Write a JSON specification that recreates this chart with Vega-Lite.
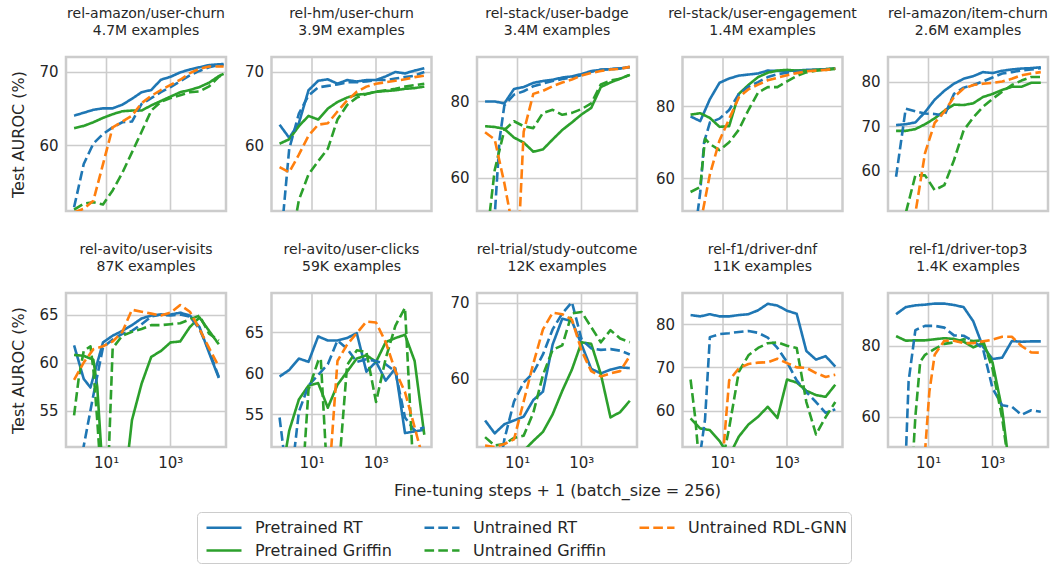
{
"$schema":"https://vega.github.io/schema/vega-lite/v6.json",
"padding":{"left":9,"top":5,"right":5,"bottom":5},
"datasets":{"d":[
{"p":1,"s":"PR","x":1,"y":64.0},{"p":1,"s":"PR","x":2,"y":64.4},{"p":1,"s":"PR","x":4,"y":64.8},{"p":1,"s":"PR","x":8,"y":65.0},{"p":1,"s":"PR","x":16,"y":65.0},{"p":1,"s":"PR","x":32,"y":65.5},{"p":1,"s":"PR","x":64,"y":66.3},{"p":1,"s":"PR","x":128,"y":67.2},{"p":1,"s":"PR","x":256,"y":67.5},{"p":1,"s":"PR","x":512,"y":68.9},{"p":1,"s":"PR","x":1024,"y":69.3},{"p":1,"s":"PR","x":2048,"y":69.9},{"p":1,"s":"PR","x":4096,"y":70.3},{"p":1,"s":"PR","x":8192,"y":70.6},{"p":1,"s":"PR","x":16384,"y":70.9},{"p":1,"s":"PR","x":32768,"y":71.0},{"p":1,"s":"PR","x":46341,"y":71.05},
{"p":1,"s":"PG","x":1,"y":62.3},{"p":1,"s":"PG","x":2,"y":62.6},{"p":1,"s":"PG","x":4,"y":63.1},{"p":1,"s":"PG","x":8,"y":63.7},{"p":1,"s":"PG","x":16,"y":64.2},{"p":1,"s":"PG","x":32,"y":64.6},{"p":1,"s":"PG","x":64,"y":64.7},{"p":1,"s":"PG","x":128,"y":64.7},{"p":1,"s":"PG","x":256,"y":65.4},{"p":1,"s":"PG","x":512,"y":66.0},{"p":1,"s":"PG","x":1024,"y":66.6},{"p":1,"s":"PG","x":2048,"y":67.2},{"p":1,"s":"PG","x":4096,"y":67.5},{"p":1,"s":"PG","x":8192,"y":67.9},{"p":1,"s":"PG","x":16384,"y":68.5},{"p":1,"s":"PG","x":32768,"y":69.4},{"p":1,"s":"PG","x":46341,"y":69.7},
{"p":1,"s":"UR","x":1,"y":51.5},{"p":1,"s":"UR","x":2,"y":57.4},{"p":1,"s":"UR","x":4,"y":60.2},{"p":1,"s":"UR","x":8,"y":61.5},{"p":1,"s":"UR","x":16,"y":62.4},{"p":1,"s":"UR","x":32,"y":63.1},{"p":1,"s":"UR","x":64,"y":63.2},{"p":1,"s":"UR","x":128,"y":65.6},{"p":1,"s":"UR","x":256,"y":66.4},{"p":1,"s":"UR","x":512,"y":67.2},{"p":1,"s":"UR","x":1024,"y":67.9},{"p":1,"s":"UR","x":2048,"y":68.7},{"p":1,"s":"UR","x":4096,"y":69.5},{"p":1,"s":"UR","x":8192,"y":70.1},{"p":1,"s":"UR","x":16384,"y":70.6},{"p":1,"s":"UR","x":32768,"y":70.9},{"p":1,"s":"UR","x":46341,"y":70.9},
{"p":1,"s":"UG","x":1,"y":51.2},{"p":1,"s":"UG","x":2,"y":52.0},{"p":1,"s":"UG","x":4,"y":52.2},{"p":1,"s":"UG","x":8,"y":51.9},{"p":1,"s":"UG","x":16,"y":53.8},{"p":1,"s":"UG","x":32,"y":56.2},{"p":1,"s":"UG","x":64,"y":59.0},{"p":1,"s":"UG","x":128,"y":61.8},{"p":1,"s":"UG","x":256,"y":64.7},{"p":1,"s":"UG","x":512,"y":65.9},{"p":1,"s":"UG","x":1024,"y":66.4},{"p":1,"s":"UG","x":2048,"y":66.8},{"p":1,"s":"UG","x":4096,"y":67.2},{"p":1,"s":"UG","x":8192,"y":67.3},{"p":1,"s":"UG","x":16384,"y":68.0},{"p":1,"s":"UG","x":32768,"y":69.3},{"p":1,"s":"UG","x":46341,"y":69.6},
{"p":1,"s":"UO","x":1,"y":50.8},{"p":1,"s":"UO","x":2,"y":51.3},{"p":1,"s":"UO","x":4,"y":52.4},{"p":1,"s":"UO","x":8,"y":57.4},{"p":1,"s":"UO","x":16,"y":62.4},{"p":1,"s":"UO","x":32,"y":63.2},{"p":1,"s":"UO","x":64,"y":64.0},{"p":1,"s":"UO","x":128,"y":65.7},{"p":1,"s":"UO","x":256,"y":66.7},{"p":1,"s":"UO","x":512,"y":67.5},{"p":1,"s":"UO","x":1024,"y":68.2},{"p":1,"s":"UO","x":2048,"y":68.9},{"p":1,"s":"UO","x":4096,"y":69.8},{"p":1,"s":"UO","x":8192,"y":70.4},{"p":1,"s":"UO","x":16384,"y":70.7},{"p":1,"s":"UO","x":32768,"y":70.7},{"p":1,"s":"UO","x":46341,"y":70.7},

{"p":2,"s":"PR","x":1,"y":62.8},{"p":2,"s":"PR","x":2,"y":61.0},{"p":2,"s":"PR","x":4,"y":63.0},{"p":2,"s":"PR","x":8,"y":67.5},{"p":2,"s":"PR","x":16,"y":68.8},{"p":2,"s":"PR","x":32,"y":69.0},{"p":2,"s":"PR","x":64,"y":68.4},{"p":2,"s":"PR","x":128,"y":68.9},{"p":2,"s":"PR","x":256,"y":68.7},{"p":2,"s":"PR","x":512,"y":68.9},{"p":2,"s":"PR","x":1024,"y":68.9},{"p":2,"s":"PR","x":2048,"y":69.4},{"p":2,"s":"PR","x":4096,"y":70.0},{"p":2,"s":"PR","x":8192,"y":69.8},{"p":2,"s":"PR","x":16384,"y":70.2},{"p":2,"s":"PR","x":32768,"y":70.5},
{"p":2,"s":"PG","x":1,"y":60.2},{"p":2,"s":"PG","x":2,"y":60.8},{"p":2,"s":"PG","x":4,"y":62.6},{"p":2,"s":"PG","x":8,"y":64.0},{"p":2,"s":"PG","x":16,"y":63.5},{"p":2,"s":"PG","x":32,"y":65.0},{"p":2,"s":"PG","x":64,"y":65.9},{"p":2,"s":"PG","x":128,"y":66.5},{"p":2,"s":"PG","x":256,"y":66.9},{"p":2,"s":"PG","x":512,"y":67.0},{"p":2,"s":"PG","x":1024,"y":67.3},{"p":2,"s":"PG","x":2048,"y":67.4},{"p":2,"s":"PG","x":4096,"y":67.5},{"p":2,"s":"PG","x":8192,"y":67.7},{"p":2,"s":"PG","x":16384,"y":67.8},{"p":2,"s":"PG","x":32768,"y":68.0},
{"p":2,"s":"UR","x":1,"y":45},{"p":2,"s":"UR","x":2,"y":59.5},{"p":2,"s":"UR","x":4,"y":64.3},{"p":2,"s":"UR","x":8,"y":66.8},{"p":2,"s":"UR","x":16,"y":67.9},{"p":2,"s":"UR","x":32,"y":68.1},{"p":2,"s":"UR","x":64,"y":68.3},{"p":2,"s":"UR","x":128,"y":68.6},{"p":2,"s":"UR","x":256,"y":68.6},{"p":2,"s":"UR","x":512,"y":68.7},{"p":2,"s":"UR","x":1024,"y":68.9},{"p":2,"s":"UR","x":2048,"y":68.9},{"p":2,"s":"UR","x":4096,"y":69.1},{"p":2,"s":"UR","x":8192,"y":69.3},{"p":2,"s":"UR","x":16384,"y":69.5},{"p":2,"s":"UR","x":32768,"y":70.0},
{"p":2,"s":"UG","x":1,"y":40},{"p":2,"s":"UG","x":2,"y":45},{"p":2,"s":"UG","x":4,"y":52.5},{"p":2,"s":"UG","x":8,"y":56.0},{"p":2,"s":"UG","x":16,"y":57.8},{"p":2,"s":"UG","x":32,"y":59.5},{"p":2,"s":"UG","x":64,"y":63.5},{"p":2,"s":"UG","x":128,"y":65.5},{"p":2,"s":"UG","x":256,"y":66.5},{"p":2,"s":"UG","x":512,"y":67.0},{"p":2,"s":"UG","x":1024,"y":67.3},{"p":2,"s":"UG","x":2048,"y":67.5},{"p":2,"s":"UG","x":4096,"y":67.7},{"p":2,"s":"UG","x":8192,"y":68.0},{"p":2,"s":"UG","x":16384,"y":68.2},{"p":2,"s":"UG","x":32768,"y":68.4},
{"p":2,"s":"UO","x":1,"y":57.0},{"p":2,"s":"UO","x":2,"y":56.3},{"p":2,"s":"UO","x":4,"y":58.7},{"p":2,"s":"UO","x":8,"y":61.3},{"p":2,"s":"UO","x":16,"y":62.8},{"p":2,"s":"UO","x":32,"y":63.0},{"p":2,"s":"UO","x":64,"y":64.6},{"p":2,"s":"UO","x":128,"y":66.1},{"p":2,"s":"UO","x":256,"y":67.3},{"p":2,"s":"UO","x":512,"y":68.0},{"p":2,"s":"UO","x":1024,"y":68.4},{"p":2,"s":"UO","x":2048,"y":68.6},{"p":2,"s":"UO","x":4096,"y":68.8},{"p":2,"s":"UO","x":8192,"y":69.0},{"p":2,"s":"UO","x":16384,"y":69.3},{"p":2,"s":"UO","x":32768,"y":69.5},

{"p":3,"s":"PR","x":1,"y":80.0},{"p":3,"s":"PR","x":2,"y":80.0},{"p":3,"s":"PR","x":4,"y":79.5},{"p":3,"s":"PR","x":8,"y":83.3},{"p":3,"s":"PR","x":16,"y":83.8},{"p":3,"s":"PR","x":32,"y":84.9},{"p":3,"s":"PR","x":64,"y":85.4},{"p":3,"s":"PR","x":128,"y":85.7},{"p":3,"s":"PR","x":256,"y":86.3},{"p":3,"s":"PR","x":512,"y":86.6},{"p":3,"s":"PR","x":1024,"y":87.2},{"p":3,"s":"PR","x":2048,"y":88.0},{"p":3,"s":"PR","x":4096,"y":88.3},{"p":3,"s":"PR","x":8192,"y":88.5},{"p":3,"s":"PR","x":16384,"y":88.7},{"p":3,"s":"PR","x":32768,"y":89.1},
{"p":3,"s":"PG","x":1,"y":73.5},{"p":3,"s":"PG","x":2,"y":73.3},{"p":3,"s":"PG","x":4,"y":72.8},{"p":3,"s":"PG","x":8,"y":70.5},{"p":3,"s":"PG","x":16,"y":69.2},{"p":3,"s":"PG","x":32,"y":66.8},{"p":3,"s":"PG","x":64,"y":67.4},{"p":3,"s":"PG","x":128,"y":70.0},{"p":3,"s":"PG","x":256,"y":72.5},{"p":3,"s":"PG","x":512,"y":74.5},{"p":3,"s":"PG","x":1024,"y":76.6},{"p":3,"s":"PG","x":2048,"y":78.3},{"p":3,"s":"PG","x":4096,"y":83.8},{"p":3,"s":"PG","x":8192,"y":85.0},{"p":3,"s":"PG","x":16384,"y":86.0},{"p":3,"s":"PG","x":32768,"y":87.0},
{"p":3,"s":"UR","x":1,"y":45},{"p":3,"s":"UR","x":2,"y":50},{"p":3,"s":"UR","x":2.828,"y":70},{"p":3,"s":"UR","x":4,"y":79.0},{"p":3,"s":"UR","x":8,"y":81.8},{"p":3,"s":"UR","x":16,"y":82.7},{"p":3,"s":"UR","x":32,"y":84.0},{"p":3,"s":"UR","x":64,"y":84.7},{"p":3,"s":"UR","x":128,"y":85.4},{"p":3,"s":"UR","x":256,"y":85.9},{"p":3,"s":"UR","x":512,"y":86.3},{"p":3,"s":"UR","x":1024,"y":86.9},{"p":3,"s":"UR","x":2048,"y":87.8},{"p":3,"s":"UR","x":4096,"y":88.4},{"p":3,"s":"UR","x":8192,"y":88.5},{"p":3,"s":"UR","x":16384,"y":88.7},{"p":3,"s":"UR","x":32768,"y":89.0},
{"p":3,"s":"UG","x":1,"y":40},{"p":3,"s":"UG","x":2,"y":62},{"p":3,"s":"UG","x":4,"y":72.5},{"p":3,"s":"UG","x":8,"y":74.8},{"p":3,"s":"UG","x":16,"y":73.5},{"p":3,"s":"UG","x":32,"y":73.0},{"p":3,"s":"UG","x":64,"y":77.0},{"p":3,"s":"UG","x":128,"y":77.8},{"p":3,"s":"UG","x":256,"y":76.5},{"p":3,"s":"UG","x":512,"y":77.0},{"p":3,"s":"UG","x":1024,"y":78.0},{"p":3,"s":"UG","x":2048,"y":79.5},{"p":3,"s":"UG","x":4096,"y":84.5},{"p":3,"s":"UG","x":8192,"y":85.5},{"p":3,"s":"UG","x":16384,"y":86.0},{"p":3,"s":"UG","x":32768,"y":87.0},
{"p":3,"s":"UO","x":1,"y":71.9},{"p":3,"s":"UO","x":2,"y":70.0},{"p":3,"s":"UO","x":4,"y":58.5},{"p":3,"s":"UO","x":8,"y":45},{"p":3,"s":"UO","x":12.13,"y":50.5},{"p":3,"s":"UO","x":16,"y":72},{"p":3,"s":"UO","x":32,"y":82.0},{"p":3,"s":"UO","x":64,"y":82.8},{"p":3,"s":"UO","x":128,"y":84.0},{"p":3,"s":"UO","x":256,"y":85.0},{"p":3,"s":"UO","x":512,"y":85.8},{"p":3,"s":"UO","x":1024,"y":86.8},{"p":3,"s":"UO","x":2048,"y":87.5},{"p":3,"s":"UO","x":4096,"y":88.0},{"p":3,"s":"UO","x":8192,"y":88.4},{"p":3,"s":"UO","x":16384,"y":88.6},{"p":3,"s":"UO","x":32768,"y":89.1},

{"p":4,"s":"PR","x":1,"y":77.2},{"p":4,"s":"PR","x":2,"y":75.9},{"p":4,"s":"PR","x":4,"y":82.0},{"p":4,"s":"PR","x":8,"y":86.6},{"p":4,"s":"PR","x":16,"y":87.8},{"p":4,"s":"PR","x":32,"y":88.6},{"p":4,"s":"PR","x":64,"y":88.9},{"p":4,"s":"PR","x":128,"y":89.2},{"p":4,"s":"PR","x":256,"y":90.0},{"p":4,"s":"PR","x":512,"y":89.9},{"p":4,"s":"PR","x":1024,"y":89.9},{"p":4,"s":"PR","x":2048,"y":90.0},{"p":4,"s":"PR","x":4096,"y":90.2},{"p":4,"s":"PR","x":8192,"y":90.3},{"p":4,"s":"PR","x":16384,"y":90.4},{"p":4,"s":"PR","x":32768,"y":90.6},
{"p":4,"s":"PG","x":1,"y":77.7},{"p":4,"s":"PG","x":2,"y":78.1},{"p":4,"s":"PG","x":4,"y":76.8},{"p":4,"s":"PG","x":8,"y":74.3},{"p":4,"s":"PG","x":16,"y":74.5},{"p":4,"s":"PG","x":32,"y":83.5},{"p":4,"s":"PG","x":64,"y":86.0},{"p":4,"s":"PG","x":128,"y":88.2},{"p":4,"s":"PG","x":256,"y":89.4},{"p":4,"s":"PG","x":512,"y":90.0},{"p":4,"s":"PG","x":1024,"y":90.2},{"p":4,"s":"PG","x":2048,"y":90.0},{"p":4,"s":"PG","x":4096,"y":90.0},{"p":4,"s":"PG","x":8192,"y":90.2},{"p":4,"s":"PG","x":16384,"y":90.4},{"p":4,"s":"PG","x":32768,"y":90.6},
{"p":4,"s":"UR","x":1,"y":35},{"p":4,"s":"UR","x":2,"y":56},{"p":4,"s":"UR","x":2.639,"y":70},{"p":4,"s":"UR","x":4,"y":75.5},{"p":4,"s":"UR","x":8,"y":76.6},{"p":4,"s":"UR","x":16,"y":79.0},{"p":4,"s":"UR","x":32,"y":83.5},{"p":4,"s":"UR","x":64,"y":85.5},{"p":4,"s":"UR","x":128,"y":86.8},{"p":4,"s":"UR","x":256,"y":88.2},{"p":4,"s":"UR","x":512,"y":89.0},{"p":4,"s":"UR","x":1024,"y":89.4},{"p":4,"s":"UR","x":2048,"y":89.7},{"p":4,"s":"UR","x":4096,"y":90.0},{"p":4,"s":"UR","x":8192,"y":90.1},{"p":4,"s":"UR","x":16384,"y":90.3},{"p":4,"s":"UR","x":32768,"y":90.5},
{"p":4,"s":"UG","x":1,"y":56.1},{"p":4,"s":"UG","x":2,"y":57.5},{"p":4,"s":"UG","x":2.828,"y":71},{"p":4,"s":"UG","x":4,"y":69.5},{"p":4,"s":"UG","x":8,"y":67.8},{"p":4,"s":"UG","x":16,"y":70.0},{"p":4,"s":"UG","x":32,"y":73.5},{"p":4,"s":"UG","x":64,"y":79.0},{"p":4,"s":"UG","x":128,"y":83.9},{"p":4,"s":"UG","x":256,"y":85.4},{"p":4,"s":"UG","x":512,"y":85.4},{"p":4,"s":"UG","x":1024,"y":87.0},{"p":4,"s":"UG","x":2048,"y":88.5},{"p":4,"s":"UG","x":4096,"y":89.5},{"p":4,"s":"UG","x":8192,"y":90.0},{"p":4,"s":"UG","x":16384,"y":90.2},{"p":4,"s":"UG","x":32768,"y":90.5},
{"p":4,"s":"UO","x":1,"y":40},{"p":4,"s":"UO","x":2,"y":47},{"p":4,"s":"UO","x":4,"y":61},{"p":4,"s":"UO","x":8,"y":70.5},{"p":4,"s":"UO","x":16,"y":76.5},{"p":4,"s":"UO","x":32,"y":82.5},{"p":4,"s":"UO","x":64,"y":84.8},{"p":4,"s":"UO","x":128,"y":86.1},{"p":4,"s":"UO","x":256,"y":87.3},{"p":4,"s":"UO","x":512,"y":88.0},{"p":4,"s":"UO","x":1024,"y":88.7},{"p":4,"s":"UO","x":2048,"y":89.3},{"p":4,"s":"UO","x":4096,"y":89.8},{"p":4,"s":"UO","x":8192,"y":90.0},{"p":4,"s":"UO","x":16384,"y":90.2},{"p":4,"s":"UO","x":32768,"y":90.5},

{"p":5,"s":"PR","x":1,"y":70.3},{"p":5,"s":"PR","x":2,"y":70.5},{"p":5,"s":"PR","x":4,"y":70.9},{"p":5,"s":"PR","x":8,"y":73.2},{"p":5,"s":"PR","x":16,"y":76.0},{"p":5,"s":"PR","x":32,"y":78.0},{"p":5,"s":"PR","x":64,"y":79.6},{"p":5,"s":"PR","x":128,"y":80.7},{"p":5,"s":"PR","x":256,"y":81.3},{"p":5,"s":"PR","x":512,"y":82.2},{"p":5,"s":"PR","x":1024,"y":82.0},{"p":5,"s":"PR","x":2048,"y":82.5},{"p":5,"s":"PR","x":4096,"y":82.8},{"p":5,"s":"PR","x":8192,"y":83.0},{"p":5,"s":"PR","x":16384,"y":83.1},{"p":5,"s":"PR","x":32768,"y":83.3},
{"p":5,"s":"PG","x":1,"y":69.0},{"p":5,"s":"PG","x":2,"y":69.0},{"p":5,"s":"PG","x":4,"y":69.4},{"p":5,"s":"PG","x":8,"y":70.5},{"p":5,"s":"PG","x":16,"y":71.8},{"p":5,"s":"PG","x":32,"y":73.5},{"p":5,"s":"PG","x":64,"y":74.9},{"p":5,"s":"PG","x":128,"y":74.8},{"p":5,"s":"PG","x":256,"y":75.2},{"p":5,"s":"PG","x":512,"y":76.6},{"p":5,"s":"PG","x":1024,"y":77.3},{"p":5,"s":"PG","x":2048,"y":78.2},{"p":5,"s":"PG","x":4096,"y":78.9},{"p":5,"s":"PG","x":8192,"y":78.9},{"p":5,"s":"PG","x":16384,"y":79.8},{"p":5,"s":"PG","x":32768,"y":79.8},
{"p":5,"s":"UR","x":1,"y":58.7},{"p":5,"s":"UR","x":2,"y":74.0},{"p":5,"s":"UR","x":4,"y":73.4},{"p":5,"s":"UR","x":8,"y":72.9},{"p":5,"s":"UR","x":16,"y":72.8},{"p":5,"s":"UR","x":32,"y":72.4},{"p":5,"s":"UR","x":64,"y":77.3},{"p":5,"s":"UR","x":128,"y":78.7},{"p":5,"s":"UR","x":256,"y":79.3},{"p":5,"s":"UR","x":512,"y":80.1},{"p":5,"s":"UR","x":1024,"y":81.0},{"p":5,"s":"UR","x":2048,"y":81.9},{"p":5,"s":"UR","x":4096,"y":82.2},{"p":5,"s":"UR","x":8192,"y":82.6},{"p":5,"s":"UR","x":16384,"y":82.8},{"p":5,"s":"UR","x":32768,"y":83.1},
{"p":5,"s":"UG","x":1,"y":45},{"p":5,"s":"UG","x":2,"y":50.5},{"p":5,"s":"UG","x":4,"y":59.0},{"p":5,"s":"UG","x":8,"y":59.0},{"p":5,"s":"UG","x":16,"y":55.7},{"p":5,"s":"UG","x":32,"y":56.8},{"p":5,"s":"UG","x":64,"y":62.4},{"p":5,"s":"UG","x":128,"y":69.1},{"p":5,"s":"UG","x":256,"y":72.0},{"p":5,"s":"UG","x":512,"y":74.4},{"p":5,"s":"UG","x":1024,"y":76.2},{"p":5,"s":"UG","x":2048,"y":77.8},{"p":5,"s":"UG","x":4096,"y":79.3},{"p":5,"s":"UG","x":8192,"y":80.3},{"p":5,"s":"UG","x":16384,"y":81.1},{"p":5,"s":"UG","x":32768,"y":81.1},
{"p":5,"s":"UO","x":1,"y":40},{"p":5,"s":"UO","x":2,"y":45},{"p":5,"s":"UO","x":4,"y":50.5},{"p":5,"s":"UO","x":8,"y":64.0},{"p":5,"s":"UO","x":16,"y":70.8},{"p":5,"s":"UO","x":32,"y":73.3},{"p":5,"s":"UO","x":64,"y":76.6},{"p":5,"s":"UO","x":128,"y":78.5},{"p":5,"s":"UO","x":256,"y":79.3},{"p":5,"s":"UO","x":512,"y":79.6},{"p":5,"s":"UO","x":1024,"y":79.8},{"p":5,"s":"UO","x":2048,"y":80.1},{"p":5,"s":"UO","x":4096,"y":80.7},{"p":5,"s":"UO","x":8192,"y":81.5},{"p":5,"s":"UO","x":16384,"y":81.9},{"p":5,"s":"UO","x":32768,"y":82.2},

{"p":6,"s":"PR","x":1,"y":61.8},{"p":6,"s":"PR","x":2,"y":58.3},{"p":6,"s":"PR","x":3.249,"y":57.4},{"p":6,"s":"PR","x":4,"y":58.5},{"p":6,"s":"PR","x":8,"y":62.1},{"p":6,"s":"PR","x":16,"y":62.8},{"p":6,"s":"PR","x":32,"y":63.3},{"p":6,"s":"PR","x":64,"y":63.9},{"p":6,"s":"PR","x":128,"y":64.6},{"p":6,"s":"PR","x":256,"y":64.9},{"p":6,"s":"PR","x":512,"y":65.0},{"p":6,"s":"PR","x":1024,"y":65.0},{"p":6,"s":"PR","x":2048,"y":65.2},{"p":6,"s":"PR","x":4096,"y":64.9},{"p":6,"s":"PR","x":8192,"y":63.7},{"p":6,"s":"PR","x":16384,"y":61.0},{"p":6,"s":"PR","x":32768,"y":58.4},
{"p":6,"s":"PG","x":1,"y":60.8},{"p":6,"s":"PG","x":2,"y":60.7},{"p":6,"s":"PG","x":4,"y":60.3},{"p":6,"s":"PG","x":5.278,"y":57.5},{"p":6,"s":"PG","x":8,"y":48},{"p":6,"s":"PG","x":16,"y":40},{"p":6,"s":"PG","x":32,"y":45},{"p":6,"s":"PG","x":64,"y":54},{"p":6,"s":"PG","x":128,"y":57.8},{"p":6,"s":"PG","x":256,"y":60.6},{"p":6,"s":"PG","x":512,"y":61.2},{"p":6,"s":"PG","x":1024,"y":62.1},{"p":6,"s":"PG","x":2048,"y":62.2},{"p":6,"s":"PG","x":4096,"y":63.7},{"p":6,"s":"PG","x":8192,"y":64.7},{"p":6,"s":"PG","x":16384,"y":63.3},{"p":6,"s":"PG","x":32768,"y":61.9},
{"p":6,"s":"UR","x":1,"y":45},{"p":6,"s":"UR","x":2,"y":51.3},{"p":6,"s":"UR","x":4,"y":56.6},{"p":6,"s":"UR","x":8,"y":61.6},{"p":6,"s":"UR","x":16,"y":62.4},{"p":6,"s":"UR","x":32,"y":63.0},{"p":6,"s":"UR","x":64,"y":63.3},{"p":6,"s":"UR","x":128,"y":64.0},{"p":6,"s":"UR","x":256,"y":64.8},{"p":6,"s":"UR","x":512,"y":65.0},{"p":6,"s":"UR","x":1024,"y":64.9},{"p":6,"s":"UR","x":2048,"y":65.0},{"p":6,"s":"UR","x":4096,"y":64.8},{"p":6,"s":"UR","x":8192,"y":63.5},{"p":6,"s":"UR","x":16384,"y":61.2},{"p":6,"s":"UR","x":32768,"y":58.5},
{"p":6,"s":"UG","x":1,"y":54.5},{"p":6,"s":"UG","x":1.414,"y":58.5},{"p":6,"s":"UG","x":2,"y":61.2},{"p":6,"s":"UG","x":3.249,"y":61.7},{"p":6,"s":"UG","x":4,"y":59.3},{"p":6,"s":"UG","x":5.278,"y":54.0},{"p":6,"s":"UG","x":8,"y":45},{"p":6,"s":"UG","x":10.56,"y":45},{"p":6,"s":"UG","x":16,"y":61.5},{"p":6,"s":"UG","x":32,"y":62.8},{"p":6,"s":"UG","x":64,"y":63.2},{"p":6,"s":"UG","x":128,"y":63.5},{"p":6,"s":"UG","x":256,"y":63.9},{"p":6,"s":"UG","x":512,"y":63.9},{"p":6,"s":"UG","x":1024,"y":64.0},{"p":6,"s":"UG","x":2048,"y":64.1},{"p":6,"s":"UG","x":4096,"y":64.5},{"p":6,"s":"UG","x":8192,"y":64.9},{"p":6,"s":"UG","x":16384,"y":63.0},{"p":6,"s":"UG","x":32768,"y":62.3},
{"p":6,"s":"UO","x":1,"y":58.2},{"p":6,"s":"UO","x":2,"y":60.0},{"p":6,"s":"UO","x":4,"y":61.4},{"p":6,"s":"UO","x":8,"y":61.7},{"p":6,"s":"UO","x":16,"y":62.2},{"p":6,"s":"UO","x":32,"y":63.2},{"p":6,"s":"UO","x":64,"y":65.5},{"p":6,"s":"UO","x":128,"y":65.3},{"p":6,"s":"UO","x":256,"y":65.1},{"p":6,"s":"UO","x":512,"y":64.9},{"p":6,"s":"UO","x":1024,"y":65.2},{"p":6,"s":"UO","x":2048,"y":66.0},{"p":6,"s":"UO","x":4096,"y":65.3},{"p":6,"s":"UO","x":8192,"y":63.5},{"p":6,"s":"UO","x":16384,"y":61.5},{"p":6,"s":"UO","x":32768,"y":59.6},

{"p":7,"s":"PR","x":1,"y":59.6},{"p":7,"s":"PR","x":2,"y":60.4},{"p":7,"s":"PR","x":4,"y":61.8},{"p":7,"s":"PR","x":8,"y":61.4},{"p":7,"s":"PR","x":16,"y":64.5},{"p":7,"s":"PR","x":32,"y":64.0},{"p":7,"s":"PR","x":64,"y":64.0},{"p":7,"s":"PR","x":128,"y":64.3},{"p":7,"s":"PR","x":256,"y":64.9},{"p":7,"s":"PR","x":512,"y":60.2},{"p":7,"s":"PR","x":1024,"y":61.4},{"p":7,"s":"PR","x":2048,"y":59.1},{"p":7,"s":"PR","x":4096,"y":60.6},{"p":7,"s":"PR","x":8192,"y":52.7},{"p":7,"s":"PR","x":16384,"y":52.9},{"p":7,"s":"PR","x":32768,"y":53.1},
{"p":7,"s":"PG","x":1,"y":46},{"p":7,"s":"PG","x":2,"y":53.0},{"p":7,"s":"PG","x":4,"y":56.8},{"p":7,"s":"PG","x":8,"y":58.5},{"p":7,"s":"PG","x":16,"y":58.8},{"p":7,"s":"PG","x":32,"y":55.8},{"p":7,"s":"PG","x":64,"y":58.6},{"p":7,"s":"PG","x":128,"y":60.2},{"p":7,"s":"PG","x":256,"y":61.8},{"p":7,"s":"PG","x":512,"y":62.2},{"p":7,"s":"PG","x":1024,"y":61.4},{"p":7,"s":"PG","x":2048,"y":63.8},{"p":7,"s":"PG","x":4096,"y":64.3},{"p":7,"s":"PG","x":8192,"y":64.7},{"p":7,"s":"PG","x":16384,"y":61.5},{"p":7,"s":"PG","x":32768,"y":52.5},
{"p":7,"s":"UR","x":1,"y":54.6},{"p":7,"s":"UR","x":2,"y":45},{"p":7,"s":"UR","x":4,"y":55.3},{"p":7,"s":"UR","x":8,"y":58.5},{"p":7,"s":"UR","x":16,"y":59.8},{"p":7,"s":"UR","x":32,"y":61.1},{"p":7,"s":"UR","x":64,"y":64.0},{"p":7,"s":"UR","x":128,"y":63.0},{"p":7,"s":"UR","x":256,"y":61.4},{"p":7,"s":"UR","x":512,"y":61.7},{"p":7,"s":"UR","x":1024,"y":61.5},{"p":7,"s":"UR","x":2048,"y":61.1},{"p":7,"s":"UR","x":4096,"y":60.2},{"p":7,"s":"UR","x":8192,"y":54.6},{"p":7,"s":"UR","x":16384,"y":53.0},{"p":7,"s":"UR","x":32768,"y":53.4},
{"p":7,"s":"UG","x":1,"y":45},{"p":7,"s":"UG","x":2,"y":45},{"p":7,"s":"UG","x":4,"y":40},{"p":7,"s":"UG","x":8,"y":58.0},{"p":7,"s":"UG","x":16,"y":61.5},{"p":7,"s":"UG","x":19.29,"y":61.8},{"p":7,"s":"UG","x":32,"y":46},{"p":7,"s":"UG","x":64,"y":46},{"p":7,"s":"UG","x":128,"y":61.0},{"p":7,"s":"UG","x":256,"y":62.8},{"p":7,"s":"UG","x":512,"y":62.6},{"p":7,"s":"UG","x":1024,"y":56.5},{"p":7,"s":"UG","x":2048,"y":61.8},{"p":7,"s":"UG","x":4096,"y":65.8},{"p":7,"s":"UG","x":8192,"y":68.0},{"p":7,"s":"UG","x":16384,"y":45},{"p":7,"s":"UG","x":32768,"y":45},
{"p":7,"s":"UO","x":1,"y":45},{"p":7,"s":"UO","x":2,"y":45},{"p":7,"s":"UO","x":4,"y":45},{"p":7,"s":"UO","x":8,"y":45},{"p":7,"s":"UO","x":16,"y":45},{"p":7,"s":"UO","x":32,"y":45},{"p":7,"s":"UO","x":64,"y":61.5},{"p":7,"s":"UO","x":128,"y":63.5},{"p":7,"s":"UO","x":256,"y":64.9},{"p":7,"s":"UO","x":512,"y":66.3},{"p":7,"s":"UO","x":1024,"y":66.2},{"p":7,"s":"UO","x":2048,"y":63.8},{"p":7,"s":"UO","x":4096,"y":60.3},{"p":7,"s":"UO","x":8192,"y":57.7},{"p":7,"s":"UO","x":16384,"y":53.4},{"p":7,"s":"UO","x":32768,"y":49},

{"p":8,"s":"PR","x":1,"y":54.5},{"p":8,"s":"PR","x":2,"y":52.8},{"p":8,"s":"PR","x":4,"y":54.0},{"p":8,"s":"PR","x":8,"y":54.5},{"p":8,"s":"PR","x":16,"y":55.0},{"p":8,"s":"PR","x":32,"y":57.2},{"p":8,"s":"PR","x":64,"y":58.3},{"p":8,"s":"PR","x":128,"y":64.5},{"p":8,"s":"PR","x":256,"y":67.9},{"p":8,"s":"PR","x":512,"y":67.6},{"p":8,"s":"PR","x":1024,"y":64.5},{"p":8,"s":"PR","x":2048,"y":61.3},{"p":8,"s":"PR","x":4096,"y":60.7},{"p":8,"s":"PR","x":8192,"y":61.2},{"p":8,"s":"PR","x":16384,"y":61.5},{"p":8,"s":"PR","x":32768,"y":61.4},
{"p":8,"s":"PG","x":1,"y":45},{"p":8,"s":"PG","x":2,"y":45},{"p":8,"s":"PG","x":4,"y":45},{"p":8,"s":"PG","x":8,"y":45},{"p":8,"s":"PG","x":16,"y":50.5},{"p":8,"s":"PG","x":32,"y":51.8},{"p":8,"s":"PG","x":64,"y":53.0},{"p":8,"s":"PG","x":128,"y":55.3},{"p":8,"s":"PG","x":256,"y":58.4},{"p":8,"s":"PG","x":512,"y":61.2},{"p":8,"s":"PG","x":1024,"y":64.8},{"p":8,"s":"PG","x":2048,"y":64.6},{"p":8,"s":"PG","x":4096,"y":60.6},{"p":8,"s":"PG","x":8192,"y":54.9},{"p":8,"s":"PG","x":16384,"y":55.6},{"p":8,"s":"PG","x":32768,"y":57.1},
{"p":8,"s":"UR","x":1,"y":45},{"p":8,"s":"UR","x":2,"y":45},{"p":8,"s":"UR","x":4,"y":52},{"p":8,"s":"UR","x":8,"y":57.0},{"p":8,"s":"UR","x":16,"y":59.5},{"p":8,"s":"UR","x":32,"y":60.8},{"p":8,"s":"UR","x":64,"y":63.2},{"p":8,"s":"UR","x":128,"y":66.5},{"p":8,"s":"UR","x":256,"y":68.6},{"p":8,"s":"UR","x":512,"y":70.1},{"p":8,"s":"UR","x":1024,"y":65.2},{"p":8,"s":"UR","x":2048,"y":64.0},{"p":8,"s":"UR","x":4096,"y":63.8},{"p":8,"s":"UR","x":8192,"y":63.9},{"p":8,"s":"UR","x":16384,"y":63.7},{"p":8,"s":"UR","x":32768,"y":63.2},
{"p":8,"s":"UG","x":1,"y":52.3},{"p":8,"s":"UG","x":2,"y":51.2},{"p":8,"s":"UG","x":4,"y":51.4},{"p":8,"s":"UG","x":8,"y":52.2},{"p":8,"s":"UG","x":16,"y":52.5},{"p":8,"s":"UG","x":32,"y":55.5},{"p":8,"s":"UG","x":64,"y":60.5},{"p":8,"s":"UG","x":128,"y":63.8},{"p":8,"s":"UG","x":256,"y":64.4},{"p":8,"s":"UG","x":512,"y":68.6},{"p":8,"s":"UG","x":1024,"y":68.8},{"p":8,"s":"UG","x":2048,"y":66.8},{"p":8,"s":"UG","x":4096,"y":64.8},{"p":8,"s":"UG","x":8192,"y":66.4},{"p":8,"s":"UG","x":16384,"y":65.3},{"p":8,"s":"UG","x":32768,"y":64.8},
{"p":8,"s":"UO","x":1,"y":51.2},{"p":8,"s":"UO","x":2,"y":51.0},{"p":8,"s":"UO","x":4,"y":51.4},{"p":8,"s":"UO","x":8,"y":52.0},{"p":8,"s":"UO","x":16,"y":57.0},{"p":8,"s":"UO","x":32,"y":62.0},{"p":8,"s":"UO","x":64,"y":66.5},{"p":8,"s":"UO","x":128,"y":68.7},{"p":8,"s":"UO","x":256,"y":68.5},{"p":8,"s":"UO","x":512,"y":67.8},{"p":8,"s":"UO","x":1024,"y":63.7},{"p":8,"s":"UO","x":2048,"y":61.0},{"p":8,"s":"UO","x":4096,"y":60.3},{"p":8,"s":"UO","x":8192,"y":60.7},{"p":8,"s":"UO","x":16384,"y":61.0},{"p":8,"s":"UO","x":32768,"y":63.0},

{"p":9,"s":"PR","x":1,"y":82.1},{"p":9,"s":"PR","x":2,"y":81.8},{"p":9,"s":"PR","x":4,"y":82.3},{"p":9,"s":"PR","x":8,"y":81.8},{"p":9,"s":"PR","x":16,"y":81.8},{"p":9,"s":"PR","x":32,"y":82.1},{"p":9,"s":"PR","x":64,"y":82.3},{"p":9,"s":"PR","x":128,"y":83.2},{"p":9,"s":"PR","x":256,"y":84.7},{"p":9,"s":"PR","x":512,"y":84.3},{"p":9,"s":"PR","x":1024,"y":83.1},{"p":9,"s":"PR","x":2048,"y":82.4},{"p":9,"s":"PR","x":4096,"y":73.8},{"p":9,"s":"PR","x":8192,"y":71.8},{"p":9,"s":"PR","x":16384,"y":72.6},{"p":9,"s":"PR","x":32768,"y":70.2},
{"p":9,"s":"PG","x":1,"y":58.2},{"p":9,"s":"PG","x":2,"y":55.9},{"p":9,"s":"PG","x":4,"y":55.5},{"p":9,"s":"PG","x":8,"y":53.0},{"p":9,"s":"PG","x":16,"y":49.5},{"p":9,"s":"PG","x":32,"y":54.0},{"p":9,"s":"PG","x":64,"y":56.8},{"p":9,"s":"PG","x":128,"y":58.6},{"p":9,"s":"PG","x":256,"y":60.9},{"p":9,"s":"PG","x":512,"y":58.3},{"p":9,"s":"PG","x":1024,"y":67.2},{"p":9,"s":"PG","x":2048,"y":66.5},{"p":9,"s":"PG","x":4096,"y":64.6},{"p":9,"s":"PG","x":8192,"y":63.6},{"p":9,"s":"PG","x":16384,"y":63.2},{"p":9,"s":"PG","x":32768,"y":66.0},
{"p":9,"s":"UR","x":1,"y":45},{"p":9,"s":"UR","x":2,"y":50},{"p":9,"s":"UR","x":2.828,"y":58},{"p":9,"s":"UR","x":4,"y":77.0},{"p":9,"s":"UR","x":8,"y":77.7},{"p":9,"s":"UR","x":16,"y":77.9},{"p":9,"s":"UR","x":32,"y":78.2},{"p":9,"s":"UR","x":64,"y":78.4},{"p":9,"s":"UR","x":128,"y":78.0},{"p":9,"s":"UR","x":256,"y":76.9},{"p":9,"s":"UR","x":512,"y":74.5},{"p":9,"s":"UR","x":1024,"y":71.2},{"p":9,"s":"UR","x":2048,"y":67.0},{"p":9,"s":"UR","x":4096,"y":64.3},{"p":9,"s":"UR","x":8192,"y":62.0},{"p":9,"s":"UR","x":16384,"y":59.5},{"p":9,"s":"UR","x":32768,"y":60.3},
{"p":9,"s":"UG","x":1,"y":67.2},{"p":9,"s":"UG","x":1.414,"y":58},{"p":9,"s":"UG","x":2,"y":45},{"p":9,"s":"UG","x":4,"y":45},{"p":9,"s":"UG","x":8,"y":45},{"p":9,"s":"UG","x":16,"y":56},{"p":9,"s":"UG","x":32,"y":69.0},{"p":9,"s":"UG","x":64,"y":72.8},{"p":9,"s":"UG","x":128,"y":74.5},{"p":9,"s":"UG","x":256,"y":75.6},{"p":9,"s":"UG","x":512,"y":75.8},{"p":9,"s":"UG","x":1024,"y":75.0},{"p":9,"s":"UG","x":2048,"y":74.5},{"p":9,"s":"UG","x":4096,"y":62.0},{"p":9,"s":"UG","x":8192,"y":54.5},{"p":9,"s":"UG","x":16384,"y":58.5},{"p":9,"s":"UG","x":32768,"y":62.0},
{"p":9,"s":"UO","x":1,"y":40},{"p":9,"s":"UO","x":2,"y":40},{"p":9,"s":"UO","x":4,"y":40},{"p":9,"s":"UO","x":8,"y":40},{"p":9,"s":"UO","x":16,"y":67.0},{"p":9,"s":"UO","x":32,"y":69.8},{"p":9,"s":"UO","x":64,"y":70.8},{"p":9,"s":"UO","x":128,"y":71.1},{"p":9,"s":"UO","x":256,"y":71.2},{"p":9,"s":"UO","x":512,"y":72.0},{"p":9,"s":"UO","x":1024,"y":71.0},{"p":9,"s":"UO","x":2048,"y":70.0},{"p":9,"s":"UO","x":4096,"y":69.9},{"p":9,"s":"UO","x":8192,"y":68.7},{"p":9,"s":"UO","x":16384,"y":67.8},{"p":9,"s":"UO","x":32768,"y":68.3},

{"p":10,"s":"PR","x":1,"y":89.0},{"p":10,"s":"PR","x":2,"y":91.0},{"p":10,"s":"PR","x":4,"y":91.5},{"p":10,"s":"PR","x":8,"y":91.7},{"p":10,"s":"PR","x":16,"y":92.0},{"p":10,"s":"PR","x":32,"y":92.0},{"p":10,"s":"PR","x":64,"y":91.6},{"p":10,"s":"PR","x":128,"y":91.0},{"p":10,"s":"PR","x":256,"y":87.0},{"p":10,"s":"PR","x":512,"y":79.8},{"p":10,"s":"PR","x":1024,"y":76.3},{"p":10,"s":"PR","x":2048,"y":76.7},{"p":10,"s":"PR","x":4096,"y":81.4},{"p":10,"s":"PR","x":8192,"y":81.2},{"p":10,"s":"PR","x":16384,"y":81.3},{"p":10,"s":"PR","x":32768,"y":81.3},
{"p":10,"s":"PG","x":1,"y":82.8},{"p":10,"s":"PG","x":2,"y":81.5},{"p":10,"s":"PG","x":4,"y":81.6},{"p":10,"s":"PG","x":8,"y":81.6},{"p":10,"s":"PG","x":16,"y":81.9},{"p":10,"s":"PG","x":32,"y":82.2},{"p":10,"s":"PG","x":64,"y":82.0},{"p":10,"s":"PG","x":128,"y":81.2},{"p":10,"s":"PG","x":256,"y":79.6},{"p":10,"s":"PG","x":512,"y":80.8},{"p":10,"s":"PG","x":1024,"y":75.3},{"p":10,"s":"PG","x":2048,"y":61.9},{"p":10,"s":"PG","x":4096,"y":40},
{"p":10,"s":"UR","x":1,"y":45},{"p":10,"s":"UR","x":2,"y":48},{"p":10,"s":"UR","x":2.462,"y":70},{"p":10,"s":"UR","x":4,"y":84.5},{"p":10,"s":"UR","x":8,"y":85.7},{"p":10,"s":"UR","x":16,"y":85.7},{"p":10,"s":"UR","x":32,"y":85.2},{"p":10,"s":"UR","x":64,"y":83.0},{"p":10,"s":"UR","x":128,"y":82.9},{"p":10,"s":"UR","x":256,"y":81.4},{"p":10,"s":"UR","x":512,"y":79.3},{"p":10,"s":"UR","x":1024,"y":68.0},{"p":10,"s":"UR","x":2048,"y":63.2},{"p":10,"s":"UR","x":4096,"y":62.8},{"p":10,"s":"UR","x":8192,"y":60.5},{"p":10,"s":"UR","x":16384,"y":61.8},{"p":10,"s":"UR","x":32768,"y":61.4},
{"p":10,"s":"UG","x":1,"y":40},{"p":10,"s":"UG","x":2,"y":40},{"p":10,"s":"UG","x":3.482,"y":50.5},{"p":10,"s":"UG","x":4,"y":60},{"p":10,"s":"UG","x":5.657,"y":75.5},{"p":10,"s":"UG","x":8,"y":77.5},{"p":10,"s":"UG","x":16,"y":79.2},{"p":10,"s":"UG","x":32,"y":80.6},{"p":10,"s":"UG","x":64,"y":81.0},{"p":10,"s":"UG","x":128,"y":81.9},{"p":10,"s":"UG","x":256,"y":81.4},{"p":10,"s":"UG","x":512,"y":81.6},{"p":10,"s":"UG","x":1024,"y":73.5},{"p":10,"s":"UG","x":2048,"y":59.5},{"p":10,"s":"UG","x":4096,"y":40},
{"p":10,"s":"UO","x":1,"y":40},{"p":10,"s":"UO","x":2,"y":40},{"p":10,"s":"UO","x":4,"y":40},{"p":10,"s":"UO","x":8,"y":50},{"p":10,"s":"UO","x":10.93,"y":67},{"p":10,"s":"UO","x":16,"y":77.5},{"p":10,"s":"UO","x":32,"y":81.5},{"p":10,"s":"UO","x":64,"y":81.5},{"p":10,"s":"UO","x":128,"y":80.8},{"p":10,"s":"UO","x":256,"y":80.8},{"p":10,"s":"UO","x":512,"y":81.3},{"p":10,"s":"UO","x":1024,"y":81.8},{"p":10,"s":"UO","x":2048,"y":82.6},{"p":10,"s":"UO","x":4096,"y":82.6},{"p":10,"s":"UO","x":8192,"y":80.0},{"p":10,"s":"UO","x":16384,"y":78.2},{"p":10,"s":"UO","x":32768,"y":78.1}
]},
"data":{"name":"d"},
"columns":5,
"spacing":{"row":82,"column":45.5},
"bounds":"flush",
"concat":[
{"title":{"text":["rel-amazon/user-churn","4.7M examples"]},"width":160,"height":154,"transform":[{"filter":"datum.p==1"}],"mark":{"type":"line","clip":true,"strokeWidth":2.6,"strokeJoin":"round"},"encoding":{"x":{"field":"x","type":"quantitative","scale":{"type":"log","domain":[0.56,55000],"nice":false},"axis":{"values":[10,1000],"labels":false,"title":null}},"y":{"field":"y","type":"quantitative","scale":{"domain":[51,72],"nice":false,"zero":false},"axis":{"values":[60,70],"title":"Test AUROC (%)"}},"color":{"field":"s","type":"nominal","scale":{"domain":["PR","UR","UO","PG","UG"],"range":["#1f77b4","#1f77b4","#ff7f0e","#2ca02c","#2ca02c"]},"legend":{"title":null,"orient":"none","legendX":131,"legendY":455,"direction":"horizontal","columns":3,"labelExpr":"datum.label=='PR'?'Pretrained RT':datum.label=='UR'?'Untrained RT':datum.label=='UO'?'Untrained RDL-GNN':datum.label=='PG'?'Pretrained Griffin':'Untrained Griffin'"}},"strokeDash":{"field":"s","type":"nominal","scale":{"domain":["PR","UR","UO","PG","UG"],"range":[[1,0],[9.6,4.2],[9.6,4.2],[1,0],[9.6,4.2]]},"legend":{"title":null,"orient":"none","legendX":131,"legendY":455,"direction":"horizontal","columns":3,"labelExpr":"datum.label=='PR'?'Pretrained RT':datum.label=='UR'?'Untrained RT':datum.label=='UO'?'Untrained RDL-GNN':datum.label=='PG'?'Pretrained Griffin':'Untrained Griffin'"}}}},
{"title":{"text":["rel-hm/user-churn","3.9M examples"]},"width":160,"height":154,"transform":[{"filter":"datum.p==2"}],"mark":{"type":"line","clip":true,"strokeWidth":2.6,"strokeJoin":"round"},"encoding":{"x":{"field":"x","type":"quantitative","scale":{"type":"log","domain":[0.56,55000],"nice":false},"axis":{"values":[10,1000],"labels":false,"title":null}},"y":{"field":"y","type":"quantitative","scale":{"domain":[51,72.05],"nice":false,"zero":false},"axis":{"values":[60,70],"title":null}},"color":{"field":"s","type":"nominal","scale":{"domain":["PR","UR","UO","PG","UG"],"range":["#1f77b4","#1f77b4","#ff7f0e","#2ca02c","#2ca02c"]}},"strokeDash":{"field":"s","type":"nominal","scale":{"domain":["PR","UR","UO","PG","UG"],"range":[[1,0],[9.6,4.2],[9.6,4.2],[1,0],[9.6,4.2]]}}}},
{"title":{"text":["rel-stack/user-badge","3.4M examples"]},"width":160,"height":154,"transform":[{"filter":"datum.p==3"}],"mark":{"type":"line","clip":true,"strokeWidth":2.6,"strokeJoin":"round"},"encoding":{"x":{"field":"x","type":"quantitative","scale":{"type":"log","domain":[0.56,55000],"nice":false},"axis":{"values":[10,1000],"labels":false,"title":null}},"y":{"field":"y","type":"quantitative","scale":{"domain":[51.2,91.7],"nice":false,"zero":false},"axis":{"values":[60,80],"title":null}},"color":{"field":"s","type":"nominal","scale":{"domain":["PR","UR","UO","PG","UG"],"range":["#1f77b4","#1f77b4","#ff7f0e","#2ca02c","#2ca02c"]}},"strokeDash":{"field":"s","type":"nominal","scale":{"domain":["PR","UR","UO","PG","UG"],"range":[[1,0],[9.6,4.2],[9.6,4.2],[1,0],[9.6,4.2]]}}}},
{"title":{"text":["rel-stack/user-engagement","1.4M examples"]},"width":160,"height":154,"transform":[{"filter":"datum.p==4"}],"mark":{"type":"line","clip":true,"strokeWidth":2.6,"strokeJoin":"round"},"encoding":{"x":{"field":"x","type":"quantitative","scale":{"type":"log","domain":[0.56,55000],"nice":false},"axis":{"values":[10,1000],"labels":false,"title":null}},"y":{"field":"y","type":"quantitative","scale":{"domain":[50.8,93.8],"nice":false,"zero":false},"axis":{"values":[60,80],"title":null}},"color":{"field":"s","type":"nominal","scale":{"domain":["PR","UR","UO","PG","UG"],"range":["#1f77b4","#1f77b4","#ff7f0e","#2ca02c","#2ca02c"]}},"strokeDash":{"field":"s","type":"nominal","scale":{"domain":["PR","UR","UO","PG","UG"],"range":[[1,0],[9.6,4.2],[9.6,4.2],[1,0],[9.6,4.2]]}}}},
{"title":{"text":["rel-amazon/item-churn","2.6M examples"]},"width":160,"height":154,"transform":[{"filter":"datum.p==5"}],"mark":{"type":"line","clip":true,"strokeWidth":2.6,"strokeJoin":"round"},"encoding":{"x":{"field":"x","type":"quantitative","scale":{"type":"log","domain":[0.56,55000],"nice":false},"axis":{"values":[10,1000],"labels":false,"title":null}},"y":{"field":"y","type":"quantitative","scale":{"domain":[51,85.6],"nice":false,"zero":false},"axis":{"values":[60,70,80],"title":null}},"color":{"field":"s","type":"nominal","scale":{"domain":["PR","UR","UO","PG","UG"],"range":["#1f77b4","#1f77b4","#ff7f0e","#2ca02c","#2ca02c"]}},"strokeDash":{"field":"s","type":"nominal","scale":{"domain":["PR","UR","UO","PG","UG"],"range":[[1,0],[9.6,4.2],[9.6,4.2],[1,0],[9.6,4.2]]}}}},
{"title":{"text":["rel-avito/user-visits","87K examples"]},"width":160,"height":154,"transform":[{"filter":"datum.p==6"}],"mark":{"type":"line","clip":true,"strokeWidth":2.6,"strokeJoin":"round"},"encoding":{"x":{"field":"x","type":"quantitative","scale":{"type":"log","domain":[0.56,55000],"nice":false},"axis":{"values":[10,1000],"labelExpr":"datum.value==10?'10¹':'10³'","title":null}},"y":{"field":"y","type":"quantitative","scale":{"domain":[51.2,67.25],"nice":false,"zero":false},"axis":{"values":[55,60,65],"title":"Test AUROC (%)"}},"color":{"field":"s","type":"nominal","scale":{"domain":["PR","UR","UO","PG","UG"],"range":["#1f77b4","#1f77b4","#ff7f0e","#2ca02c","#2ca02c"]}},"strokeDash":{"field":"s","type":"nominal","scale":{"domain":["PR","UR","UO","PG","UG"],"range":[[1,0],[9.6,4.2],[9.6,4.2],[1,0],[9.6,4.2]]}}}},
{"title":{"text":["rel-avito/user-clicks","59K examples"]},"width":160,"height":154,"transform":[{"filter":"datum.p==7"}],"mark":{"type":"line","clip":true,"strokeWidth":2.6,"strokeJoin":"round"},"encoding":{"x":{"field":"x","type":"quantitative","scale":{"type":"log","domain":[0.56,55000],"nice":false},"axis":{"values":[10,1000],"labelExpr":"datum.value==10?'10¹':'10³'","title":null}},"y":{"field":"y","type":"quantitative","scale":{"domain":[51,69.8],"nice":false,"zero":false},"axis":{"values":[55,60,65],"title":null}},"color":{"field":"s","type":"nominal","scale":{"domain":["PR","UR","UO","PG","UG"],"range":["#1f77b4","#1f77b4","#ff7f0e","#2ca02c","#2ca02c"]}},"strokeDash":{"field":"s","type":"nominal","scale":{"domain":["PR","UR","UO","PG","UG"],"range":[[1,0],[9.6,4.2],[9.6,4.2],[1,0],[9.6,4.2]]}}}},
{"title":{"text":["rel-trial/study-outcome","12K examples"]},"width":160,"height":154,"transform":[{"filter":"datum.p==8"}],"mark":{"type":"line","clip":true,"strokeWidth":2.6,"strokeJoin":"round"},"encoding":{"x":{"field":"x","type":"quantitative","scale":{"type":"log","domain":[0.56,55000],"nice":false},"axis":{"values":[10,1000],"labelExpr":"datum.value==10?'10¹':'10³'","title":"Fine-tuning steps + 1 (batch_size = 256)"}},"y":{"field":"y","type":"quantitative","scale":{"domain":[51,71.3],"nice":false,"zero":false},"axis":{"values":[60,70],"title":null}},"color":{"field":"s","type":"nominal","scale":{"domain":["PR","UR","UO","PG","UG"],"range":["#1f77b4","#1f77b4","#ff7f0e","#2ca02c","#2ca02c"]}},"strokeDash":{"field":"s","type":"nominal","scale":{"domain":["PR","UR","UO","PG","UG"],"range":[[1,0],[9.6,4.2],[9.6,4.2],[1,0],[9.6,4.2]]}}}},
{"title":{"text":["rel-f1/driver-dnf","11K examples"]},"width":160,"height":154,"transform":[{"filter":"datum.p==9"}],"mark":{"type":"line","clip":true,"strokeWidth":2.6,"strokeJoin":"round"},"encoding":{"x":{"field":"x","type":"quantitative","scale":{"type":"log","domain":[0.56,55000],"nice":false},"axis":{"values":[10,1000],"labelExpr":"datum.value==10?'10¹':'10³'","title":null}},"y":{"field":"y","type":"quantitative","scale":{"domain":[51.6,87.2],"nice":false,"zero":false},"axis":{"values":[60,70,80],"title":null}},"color":{"field":"s","type":"nominal","scale":{"domain":["PR","UR","UO","PG","UG"],"range":["#1f77b4","#1f77b4","#ff7f0e","#2ca02c","#2ca02c"]}},"strokeDash":{"field":"s","type":"nominal","scale":{"domain":["PR","UR","UO","PG","UG"],"range":[[1,0],[9.6,4.2],[9.6,4.2],[1,0],[9.6,4.2]]}}}},
{"title":{"text":["rel-f1/driver-top3","1.4K examples"]},"width":160,"height":154,"transform":[{"filter":"datum.p==10"}],"mark":{"type":"line","clip":true,"strokeWidth":2.6,"strokeJoin":"round"},"encoding":{"x":{"field":"x","type":"quantitative","scale":{"type":"log","domain":[0.56,55000],"nice":false},"axis":{"values":[10,1000],"labelExpr":"datum.value==10?'10¹':'10³'","title":null}},"y":{"field":"y","type":"quantitative","scale":{"domain":[51.4,95],"nice":false,"zero":false},"axis":{"values":[60,80],"title":null}},"color":{"field":"s","type":"nominal","scale":{"domain":["PR","UR","UO","PG","UG"],"range":["#1f77b4","#1f77b4","#ff7f0e","#2ca02c","#2ca02c"]}},"strokeDash":{"field":"s","type":"nominal","scale":{"domain":["PR","UR","UO","PG","UG"],"range":[[1,0],[9.6,4.2],[9.6,4.2],[1,0],[9.6,4.2]]}}}}
],
"config":{
"font":"DejaVu Sans",
"view":{"stroke":"#cccccc","strokeWidth":2.5},
"axis":{"domain":false,"ticks":false,"gridColor":"#cccccc","gridWidth":1.6,"labelFontSize":15,"labelColor":"#262626","labelPadding":8,"titleFontSize":16,"titleFontWeight":"normal","titleColor":"#262626"},
"axisY":{"titlePadding":12},
"axisX":{"titlePadding":12},
"title":{"fontSize":14,"fontWeight":"normal","color":"#262626","lineHeight":17,"offset":19,"anchor":"middle"},
"legend":{"symbolType":"M-1.75,0H1.75","symbolSize":400,"symbolOffset":11.5,"symbolStrokeWidth":2.6,"labelFontSize":16,"labelColor":"#262626","strokeColor":"#cccccc","padding":4,"cornerRadius":4,"columnPadding":27,"rowPadding":3,"labelOffset":19.5,"fillColor":"white"}
}
}
